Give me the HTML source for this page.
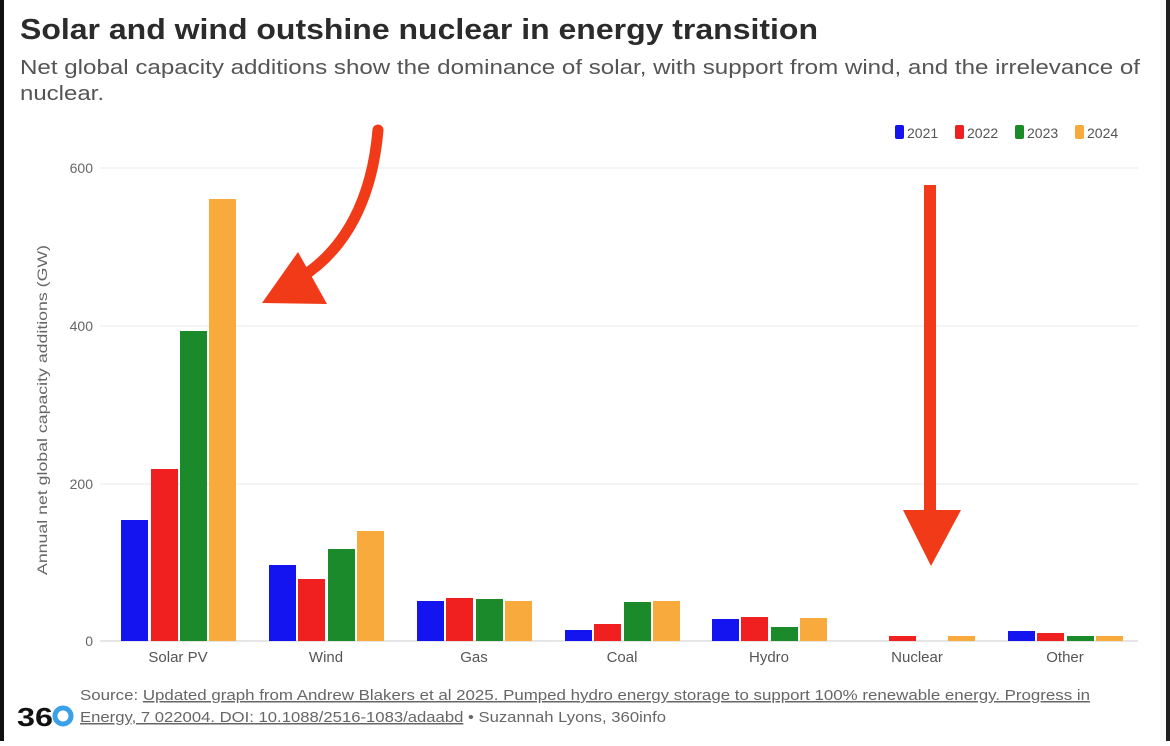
<!DOCTYPE html>
<html><head><meta charset="utf-8"><style>
body{margin:0;width:1170px;height:741px;overflow:hidden;background:#fff;font-family:"Liberation Sans",sans-serif}
</style></head><body>
<svg width="1170" height="741" xmlns="http://www.w3.org/2000/svg" font-family="Liberation Sans, sans-serif">
<rect x="0" y="0" width="1170" height="741" fill="#fff"/>
<rect x="0" y="0" width="4" height="741" fill="#111"/>
<rect x="1166" y="0" width="4" height="741" fill="#222"/>
<text x="20" y="39" font-size="29" font-weight="bold" fill="#2b2b2b" textLength="798" lengthAdjust="spacingAndGlyphs">Solar and wind outshine nuclear in energy transition</text>
<text x="20" y="74" font-size="20" fill="#555" textLength="1120" lengthAdjust="spacingAndGlyphs">Net global capacity additions show the dominance of solar, with support from wind, and the irrelevance of</text>
<text x="20" y="100" font-size="20" fill="#555" textLength="84" lengthAdjust="spacingAndGlyphs">nuclear.</text>
<g font-size="14" fill="#555">
<rect x="895" y="125" width="9" height="14" rx="2" fill="#1414f0"/><text x="907" y="138">2021</text>
<rect x="955" y="125" width="9" height="14" rx="2" fill="#f02020"/><text x="967" y="138">2022</text>
<rect x="1015" y="125" width="9" height="14" rx="2" fill="#1a8a2a"/><text x="1027" y="138">2023</text>
<rect x="1075" y="125" width="9" height="14" rx="2" fill="#f9aa3c"/><text x="1087" y="138">2024</text>
</g>
<g stroke="#e8e8e8" stroke-width="1">
<line x1="100" y1="168" x2="1138" y2="168"/><line x1="100" y1="326" x2="1138" y2="326"/><line x1="100" y1="484" x2="1138" y2="484"/>
</g>
<line x1="100" y1="641" x2="1138" y2="641" stroke="#ccc"/>
<g font-size="14" fill="#666" text-anchor="end">
<text x="93" y="173">600</text><text x="93" y="331">400</text><text x="93" y="489">200</text><text x="93" y="646">0</text>
</g>
<text transform="translate(47,410) rotate(-90)" font-size="14" fill="#666" text-anchor="middle" textLength="330" lengthAdjust="spacingAndGlyphs">Annual net global capacity additions (GW)</text>
<g>
<rect x="121" y="520" width="27" height="121" fill="#1414f0"/><rect x="151" y="469" width="27" height="172" fill="#f02020"/><rect x="180" y="331" width="27" height="310" fill="#1a8a2a"/><rect x="209" y="199" width="27" height="442" fill="#f9aa3c"/>
<rect x="269" y="565" width="27" height="76" fill="#1414f0"/><rect x="298" y="579" width="27" height="62" fill="#f02020"/><rect x="328" y="549" width="27" height="92" fill="#1a8a2a"/><rect x="357" y="531" width="27" height="110" fill="#f9aa3c"/>
<rect x="417" y="601" width="27" height="40" fill="#1414f0"/><rect x="446" y="598" width="27" height="43" fill="#f02020"/><rect x="476" y="599" width="27" height="42" fill="#1a8a2a"/><rect x="505" y="601" width="27" height="40" fill="#f9aa3c"/>
<rect x="565" y="630" width="27" height="11" fill="#1414f0"/><rect x="594" y="624" width="27" height="17" fill="#f02020"/><rect x="624" y="602" width="27" height="39" fill="#1a8a2a"/><rect x="653" y="601" width="27" height="40" fill="#f9aa3c"/>
<rect x="712" y="619" width="27" height="22" fill="#1414f0"/><rect x="741" y="617" width="27" height="24" fill="#f02020"/><rect x="771" y="627" width="27" height="14" fill="#1a8a2a"/><rect x="800" y="618" width="27" height="23" fill="#f9aa3c"/>
<rect x="889" y="636" width="27" height="5" fill="#f02020"/><rect x="948" y="636" width="27" height="5" fill="#f9aa3c"/>
<rect x="1008" y="631" width="27" height="10" fill="#1414f0"/><rect x="1037" y="633" width="27" height="8" fill="#f02020"/><rect x="1067" y="636" width="27" height="5" fill="#1a8a2a"/><rect x="1096" y="636" width="27" height="5" fill="#f9aa3c"/>
</g>
<g font-size="15" fill="#555" text-anchor="middle">
<text x="178" y="662">Solar PV</text><text x="326" y="662">Wind</text><text x="474" y="662">Gas</text><text x="622" y="662">Coal</text><text x="769" y="662">Hydro</text><text x="917" y="662">Nuclear</text><text x="1065" y="662">Other</text>
</g>
<path d="M378,130 C372,200 345,250 300,278" stroke="#f03a18" stroke-width="11" fill="none" stroke-linecap="round"/>
<polygon points="262,303 298,252 327,304" fill="#f03a18"/>
<rect x="924" y="185" width="12" height="330" fill="#f03a18"/>
<polygon points="903,510 961,510 931,566" fill="#f03a18"/>
<text x="17" y="726" font-size="26" font-weight="bold" fill="#111" textLength="36" lengthAdjust="spacingAndGlyphs">36</text>
<circle cx="63" cy="716" r="8" fill="none" stroke="#3aa0e8" stroke-width="5"/>
<g font-size="15" fill="#666">
<text x="80" y="700" textLength="1010" lengthAdjust="spacingAndGlyphs">Source: <tspan text-decoration="underline">Updated graph from Andrew Blakers et al 2025. Pumped hydro energy storage to support 100% renewable energy. Progress in</tspan></text>
<text x="80" y="722" textLength="586" lengthAdjust="spacingAndGlyphs"><tspan text-decoration="underline">Energy, 7 022004. DOI: 10.1088/2516-1083/adaabd</tspan> • Suzannah Lyons, 360info</text>
</g>
</svg>
</body></html>
